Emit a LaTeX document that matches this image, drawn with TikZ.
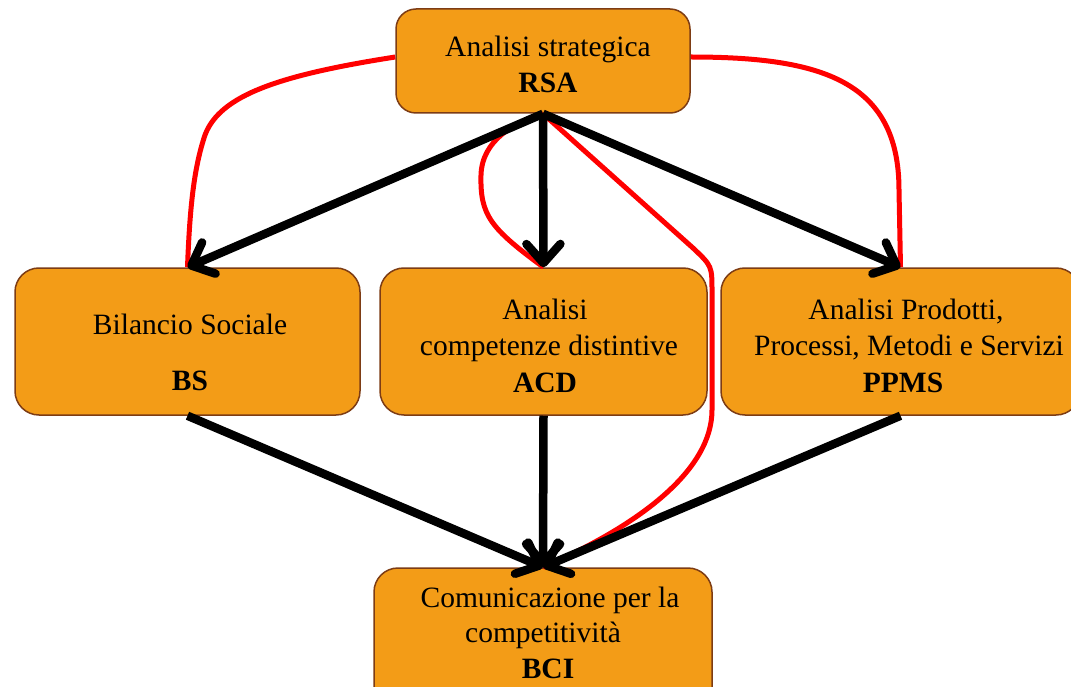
\documentclass[tikz,border=0pt]{standalone}
\usepackage{fontspec}
\setmainfont{Liberation Serif}
\usetikzlibrary{arrows.meta}
\definecolor{boxfill}{RGB}{243,156,23}
\definecolor{boxedge}{RGB}{125,60,20}
\begin{document}
\begin{tikzpicture}[x=1pt,y=-1pt,
  box/.style={rectangle, draw=boxedge, line width=1.5pt, fill=boxfill,
              rounded corners=24pt, inner sep=0pt},
  lbl/.style={anchor=base, inner sep=0pt, outer sep=0pt,
              font=\fontsize{29.5}{36}\selectfont},
  flow/.style={line width=8.5pt,
               -{Straight Barb[length=19pt,width=34pt,line cap=round,line join=round]}},
  link/.style={red, line width=5pt}]
\useasboundingbox (0,0) rectangle (1071,687);
\clip (0,0) rectangle (1071,687);

% boxes
\node[box, rounded corners=20pt, minimum width=294pt, minimum height=104pt] (rsa) at (543,61) {};
\node[box, minimum width=345pt, minimum height=147pt] (bs) at (187.5,341.5) {};
\node[box, minimum width=327pt, minimum height=147pt] (acd) at (543.5,341.5) {};
\node[box, minimum width=359pt, minimum height=147pt] (ppms) at (900.5,341.5) {};
\node[box, minimum width=338pt, minimum height=150pt] (bci) at (543,643) {};

% labels
\node[lbl] (rsa1) at (548,57) {Analisi strategica};
\node[lbl] (rsa2) at (548,93) {\textbf{RSA}};
\node[lbl] (bs1) at (190,334) {Bilancio Sociale};
\node[lbl] (bs2) at (190,390) {\textbf{BS}};
\node[lbl] (acd1) at (545,319) {Analisi};
\node[lbl] (acd2) at (549,355) {competenze distintive};
\node[lbl] (acd3) at (545,392) {\textbf{ACD}};
\node[lbl] (ppms1) at (906,319) {Analisi Prodotti,};
\node[lbl] (ppms2) at (909,355) {Processi, Metodi e Servizi};
\node[lbl] (ppms3) at (903,392) {\textbf{PPMS}};
\node[lbl] (bci1) at (550,607) {Comunicazione per la};
\node[lbl] (bci2) at (543,642) {competitività};
\node[lbl] (bci3) at (548,678) {\textbf{BCI}};

% red feedback links
\draw[link] ([yshift=4pt]rsa.west) .. controls (280,75) and (220,95) .. (205,135)
  .. controls (195,165) and (190,200) .. (bs.north);
\draw[link] ([yshift=4pt]rsa.east) .. controls (820,57) and (899,80) .. (899,190)
  -- (ppms.north);
\draw[link] (rsa.south) .. controls (515,122) and (482,140) .. (481,175)
  .. controls (480,215) and (490,228) .. (acd.north);
\draw[link] (rsa.south) -- (693,248) .. controls (712,266) .. (712,292) -- (712,410)
  .. controls (712,470) and (640,525) .. (bci.north);

% main flow
\draw[flow] (rsa.south) -- (bs.north);
\draw[flow] (rsa.south) -- (acd.north);
\draw[flow] (rsa.south) -- (ppms.north);
\draw[flow] (bs.south) -- (bci.north);
\draw[flow] (acd.south) -- (bci.north);
\draw[flow] (ppms.south) -- (bci.north);
\end{tikzpicture}
\end{document}
